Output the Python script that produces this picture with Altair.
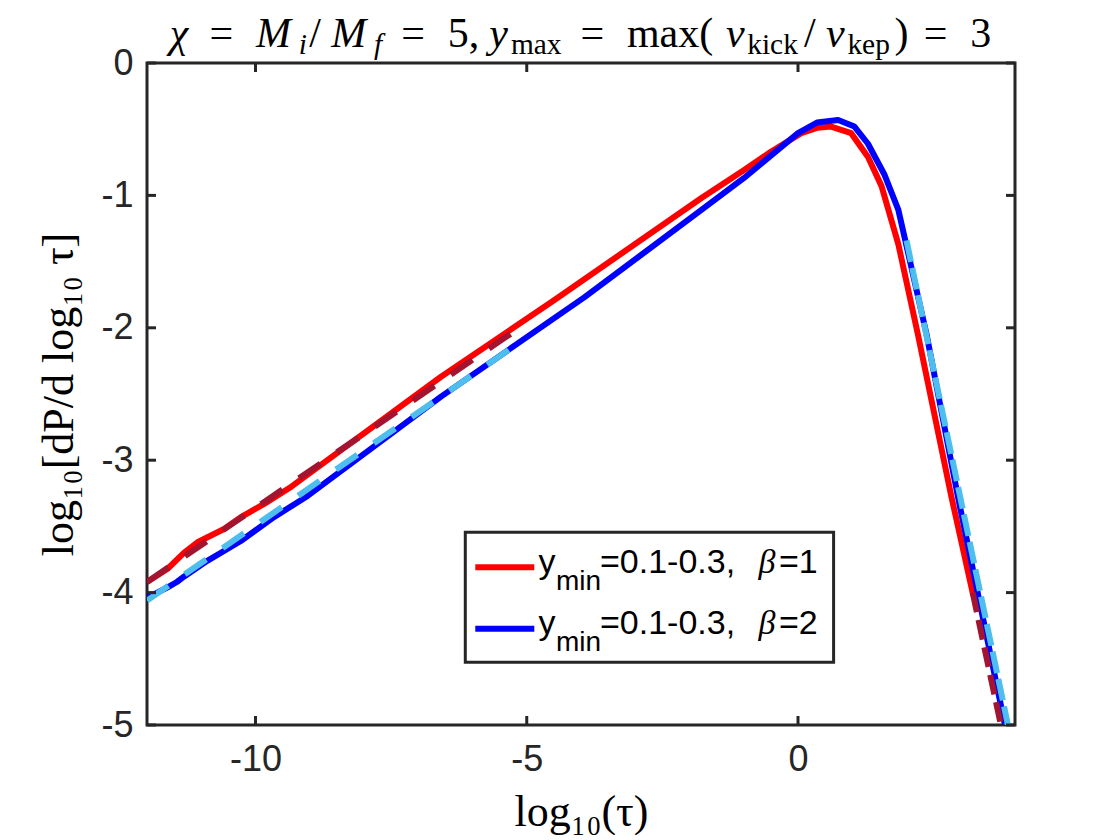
import altair as alt
import pandas as pd

W, H = 868, 662

# ---------------- data ----------------
red_x = [-12.0, -11.62, -11.32, -11.07, -10.58, -10.27, -9.84, -9.34, -6.58, -4.49,
         -1.78, -1.0, -0.5, 0.06, 0.35, 0.61, 0.98, 1.29, 1.54, 1.85, 2.21, 2.83, 3.23]
red_y = [-3.92, -3.82, -3.70, -3.62, -3.52, -3.43, -3.33, -3.20, -2.37, -1.79,
         -1.02, -0.81, -0.67, -0.53, -0.49, -0.48, -0.53, -0.71, -0.93, -1.37, -2.05, -3.28, -4.02]
blue_x = [-12.0, -11.62, -11.45, -11.32, -10.89, -10.27, -9.66, -9.04, -6.58, -3.94,
          -1.78, -1.0, -0.5, 0.0, 0.35, 0.74, 1.04, 1.29, 1.59, 1.85, 2.37, 2.95, 3.81]
blue_y = [-4.04, -3.96, -3.92, -3.88, -3.76, -3.61, -3.43, -3.27, -2.52, -1.77,
          -1.11, -0.87, -0.70, -0.53, -0.45, -0.43, -0.48, -0.61, -0.84, -1.11, -2.05, -3.28, -4.99]

fit1_left_x = [-12.0, -5.1]
fit1_left_y = [-3.92, -1.99]
fit1_right_x = [3.22, 3.74]
fit1_right_y = [-4.0, -5.0]
fit2_left_x = [-12.0, -5.1]
fit2_left_y = [-4.06, -2.10]
fit2_right_x = [2.0, 3.87]
fit2_right_y = [-1.34, -5.0]

x_ticks = [-10, -5, 0]
y_ticks = [-5, -4, -3, -2, -1, 0]

legend_main = ["=0.1-0.3,", "=0.1-0.3,"]
legend_beta = ["=1", "=2"]
legend_colors = ["#FF0000", "#0000FF"]

FRAME = "#262626"
xs = alt.Scale(domain=[-12, 4], nice=False, zero=False)
ys = alt.Scale(domain=[-5, 0], nice=False, zero=False)


def df_xy(xv, yv):
    return pd.DataFrame({"x": xv, "y": yv, "i": list(range(len(xv)))})


label_expr = "datum.value < 0 ? '-' + toString(-datum.value) : toString(datum.value)"

x_axis = alt.Axis(values=x_ticks, title="log₁₀(τ)", grid=False, ticks=False, domain=False,
                  labelFont="Liberation Sans", labelFontSize=36, labelColor=FRAME,
                  labelPadding=17, labelExpr=label_expr, labelFlush=False,
                  titleFont="Liberation Serif", titleFontSize=44, titleFontWeight="normal",
                  titleColor="black", titleBaseline="alphabetic", titleY=100)
y_axis = alt.Axis(values=y_ticks, title="log₁₀[dP/d log₁₀ τ]", grid=False, ticks=False,
                  domain=False, labelFont="Liberation Sans", labelFontSize=36,
                  labelColor=FRAME, labelPadding=14, labelExpr=label_expr,
                  labelOverlap=False, labelBaseline="middle", labelFlush=False,
                  titleFont="Liberation Serif", titleFontSize=44, titleFontWeight="normal",
                  titleColor="black", titleAngle=270, titleBaseline="alphabetic",
                  titleX=-75, titleY=H / 2, titleAlign="center")

X_ENC = alt.X("x:Q", scale=xs, axis=x_axis, title="log₁₀(τ)")
Y_ENC = alt.Y("y:Q", scale=ys, axis=y_axis, title="log₁₀[dP/d log₁₀ τ]")


def line_layer(xv, yv, color, dash=None):
    mk = dict(color=color, strokeWidth=6, clip=True, strokeJoin="round", strokeCap="butt")
    if dash:
        mk["strokeDash"] = dash
    return alt.Chart(df_xy(xv, yv)).mark_line(**mk).encode(x=X_ENC, y=Y_ENC, order="i:Q")


layers = [
    line_layer(red_x, red_y, "#FF0000"),
    line_layer(blue_x, blue_y, "#0000FF"),
    line_layer(fit1_left_x, fit1_left_y, "#A2142F", dash=[26, 20]),
    line_layer(fit1_right_x, fit1_right_y, "#A2142F", dash=[20, 8]),
    line_layer(fit2_left_x, fit2_left_y, "#4DBEEE", dash=[26, 20]),
    line_layer(fit2_right_x, fit2_right_y, "#4DBEEE", dash=[22, 6]),
]

# inward ticks on all four sides
xt = pd.DataFrame({"x": x_ticks})
yt = pd.DataFrame({"y": y_ticks})
for y0, y1 in [(H - 9, H), (0, 9)]:
    layers.append(alt.Chart(xt).mark_rule(color=FRAME, strokeWidth=3).encode(
        x=X_ENC, y=alt.value(y0), y2=alt.value(y1)))
for x0, x1 in [(0, 9), (W - 9, W)]:
    layers.append(alt.Chart(yt).mark_rule(color=FRAME, strokeWidth=3).encode(
        y=Y_ENC, x=alt.value(x0), x2=alt.value(x1)))

one = alt.Data(values=[{"k": 0}])


def text_piece(txt, px, py, size, font, style="normal", color="black", align="left"):
    return alt.Chart(one).mark_text(text=txt, font=font, fontSize=size, fontStyle=style,
                                    color=color, align=align, baseline="alphabetic").encode(
        x=alt.value(px), y=alt.value(py))


# ---------------- title built from pieces (TeX-like) ----------------
CM = {"χ": 0.626, "=": 0.778, "M": 0.97, "/": 0.5, "5": 0.5, ",": 0.278, "y": 0.49,
      "m": 0.833, "a": 0.5, "x": 0.528, "(": 0.389, ")": 0.389, "v": 0.485, "k": 0.528,
      "i": 0.345, "c": 0.444, "e": 0.444, "p": 0.556, "3": 0.5, "f": 0.49}
S_POS = 44     # spacing (TeX-like layout)
S_FONT = 42    # glyph size
SUB = 0.7
title_pieces = [
    ("χ", "italic", False, 0.0), ("=", "normal", False, 0.278), ("M", "italic", False, 0.278),
    ("i", "italic", True, 0.0), ("/", "normal", False, 0.0), ("M", "italic", False, 0.0),
    ("f", "italic", True, 0.0), ("=", "normal", False, 0.278), ("5,", "normal", False, 0.278),
    ("y", "italic", False, 0.167), ("max", "normal", True, 0.0), ("=", "normal", False, 0.278),
    ("max(", "normal", False, 0.278), ("v", "italic", False, 0.0), ("kick", "normal", True, 0.0),
    ("/", "normal", False, 0.0), ("v", "italic", False, 0.0), ("kep", "normal", True, 0.0),
    (")", "normal", False, 0.0), ("=", "normal", False, 0.278), ("3", "normal", False, 0.278),
]
total = 0.0
for t, st, sub, gap in title_pieces:
    total += gap + sum(CM.get(c, 0.5) for c in t) * (SUB if sub else 1.0)
cur = W / 2 - total * S_POS / 2
base_y = -16.0
for t, st, sub, gap in title_pieces:
    cur += gap * S_POS
    fs = S_FONT * SUB if sub else S_FONT
    layers.append(text_piece(t, cur, base_y + (7 if sub else 0), fs, "Liberation Serif", st))
    cur += sum(CM.get(c, 0.5) for c in t) * S_POS * (SUB if sub else 1.0)

# ---------------- legend (MATLAB-like box) ----------------
LX0, LX1, LY0, LY1 = 318.3, 686.6, 469.2, 599.2
layers.append(alt.Chart(one).mark_rect(fill="white", stroke=FRAME, strokeWidth=3).encode(
    x=alt.value(LX0), x2=alt.value(LX1), y=alt.value(LY0), y2=alt.value(LY1)))
for k in range(2):
    yc = 504.2 + 61.6 * k
    yb = 509.5 + 61.6 * k
    layers.append(alt.Chart(one).mark_rule(color=legend_colors[k], strokeWidth=6).encode(
        x=alt.value(328.3), x2=alt.value(387.3), y=alt.value(yc)))
    layers.append(text_piece("y", 391.6, yb, 34, "Liberation Sans"))
    layers.append(text_piece("min", 409.0, yb + 17, 28, "Liberation Sans"))
    layers.append(text_piece(legend_main[k], 453.0, yb, 34, "Liberation Sans"))
    layers.append(text_piece("β", 611.5, yb, 34, "Liberation Serif", "italic"))
    layers.append(text_piece(legend_beta[k], 632.0, yb, 34, "Liberation Sans"))

chart = alt.layer(*layers).properties(
    width=W, height=H,
    autosize=alt.AutoSizeParams(type="none"),
    padding={"left": 139, "top": 55, "right": 20, "bottom": 110},
    background="white",
).configure_view(stroke=FRAME, strokeWidth=3)

chart.save("out.html", embed_options={"renderer": "svg", "actions": False})
